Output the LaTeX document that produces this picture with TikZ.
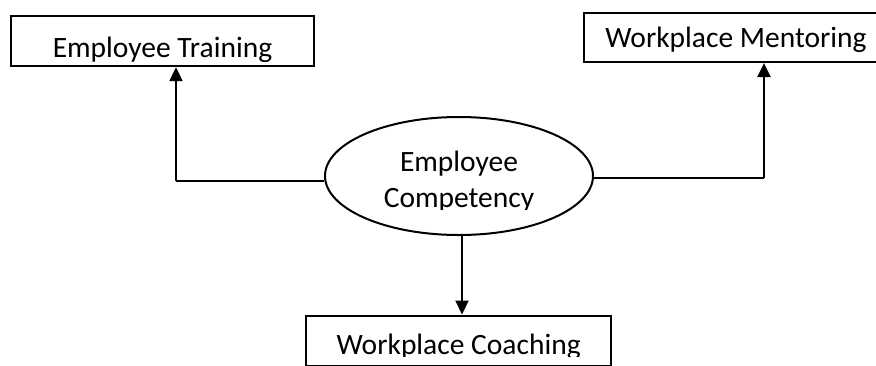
\documentclass[tikz,border=0pt]{standalone}
\usepackage{fontspec}
\setmainfont{Carlito}
\usetikzlibrary{arrows.meta,shapes.geometric}
\begin{document}
\begin{tikzpicture}[x=1pt,y=-1pt,
  box/.style={draw,rectangle,line width=2.4pt,inner sep=0pt},
  arr/.style={line width=2.2pt,-{Triangle[width=13pt,length=14pt]}},
  link/.style={line width=1.2pt},
  lbl/.style={font=\fontsize{29.5}{37}\selectfont,inner sep=0pt,anchor=base}]
\useasboundingbox (0,0) rectangle (876,365);
% the three boxes and the ellipse
\node[box,minimum width=303pt,minimum height=50pt] (train) at (162.5,41) {};
\node[box,minimum width=304pt,minimum height=49pt] (mentor) at (736,37.4) {};
\node[box,minimum width=305pt,minimum height=50pt] (coach) at (458.7,340.7) {};
\node[draw,ellipse,line width=2pt,inner sep=0pt,minimum width=268pt,minimum height=118pt] (comp) at (459,176) {};
% labels, cut off at the bottom
\begin{scope}
\clip (11,15) rectangle (314,63);
\node[lbl] (trainlbl) at (162.5,57) {Employee Training};
\end{scope}
\begin{scope}
\clip (584,13) rectangle (876,52);
\node[lbl] (mentorlbl) at (736,47) {Workplace Mentoring};
\end{scope}
\begin{scope}
\clip (306,317) rectangle (611,356);
\node[lbl] (coachlbl) at (458.7,354) {Workplace Coaching};
\end{scope}
\begin{scope}
\clip (330,120) rectangle (590,209);
\node[lbl] (complbl1) at (459,171) {Employee};
\node[lbl] (complbl2) at (459,207) {Competency};
\end{scope}
% connectors
\coordinate (lcorner) at (176,181);
\coordinate (rcorner) at (764,178);
\draw[link] ([yshift=-5pt]comp.west) -- (lcorner);
\draw[arr] (lcorner) -- (lcorner |- train.south);
\draw[link] ([yshift=-2pt]comp.east) -- (rcorner);
\draw[arr] (rcorner) -- (rcorner |- mentor.south);
\draw[arr] (comp.south -| 462,0) -- (462,0 |- coach.north);
\end{tikzpicture}
\end{document}
